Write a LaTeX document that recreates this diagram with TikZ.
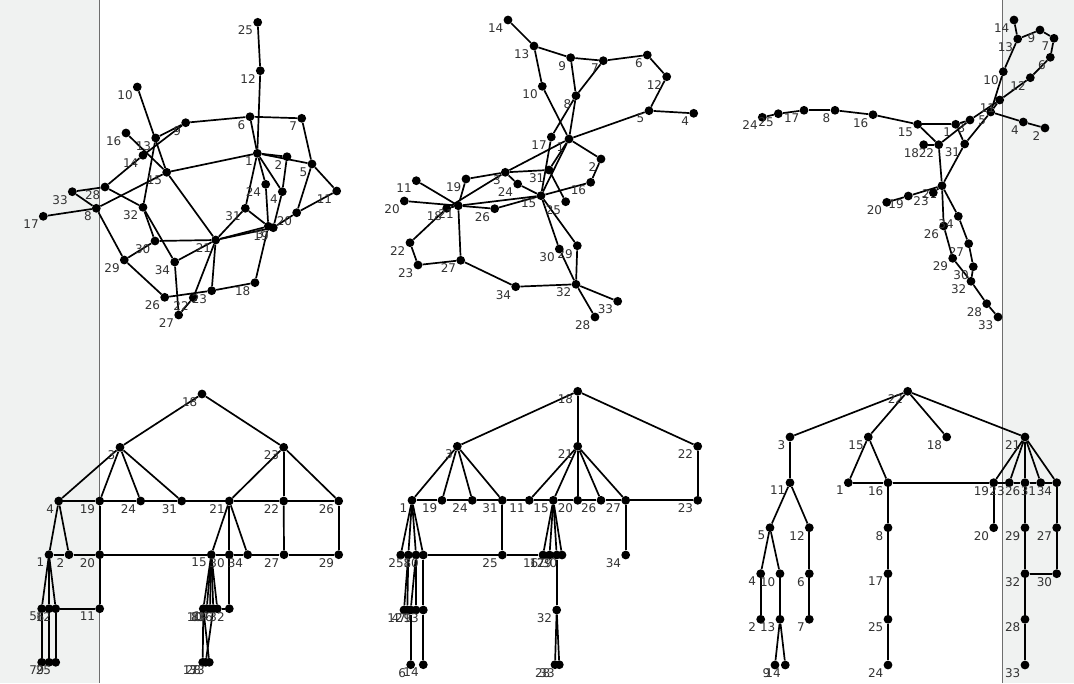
\documentclass[tikz,border=0pt]{standalone}
\usepackage{fontspec}
\setmainfont{DejaVu Sans}
\pgfdeclarelayer{back}\pgfdeclarelayer{bg}\pgfsetlayers{back,bg,main}
\definecolor{stripbg}{RGB}{240,242,241}
\definecolor{stripln}{RGB}{110,110,110}
\tikzset{vtx/.style={circle,fill=black,inner sep=0pt,minimum size=8.8pt},
 lbl/.style={font=\fontsize{12}{12}\selectfont,text=black!80,inner sep=0pt,xshift=-1.2pt,yshift=0pt},
 edge/.style={line width=1.7pt,black}}
\newcommand\vx[4]{\node[vtx,label={[lbl]below left:#4}] (#1) at (#2,#3) {};}
\begin{document}
\begin{tikzpicture}[x=1pt,y=-1pt]
\useasboundingbox (0,0) rectangle (1074,683);
\begin{pgfonlayer}{back}
\fill[white] (0,0) rectangle (1074,683);
\fill[stripbg] (0,0) rectangle (99.5,683);
\fill[stripbg] (1002,0) rectangle (1074,683);
\draw[stripln,line width=0.8pt] (99.5,0) -- (99.5,683);
\draw[stripln,line width=0.8pt] (1002,0) -- (1002,683);
\end{pgfonlayer}
% ---------------- top left
\vx{a1}{257.3}{153.3}{1}\vx{a2}{287}{156.7}{2}\vx{a3}{268.3}{226.3}{3}\vx{a4}{282.3}{191.7}{4}
\vx{a5}{312}{164}{5}\vx{a6}{250}{116.7}{6}\vx{a7}{301.7}{118.3}{7}\vx{a8}{96.3}{208.3}{8}
\vx{a9}{185.7}{122.7}{9}\vx{a10}{137.3}{87}{10}\vx{a11}{336.7}{191}{11}\vx{a12}{260.3}{70.7}{12}
\vx{a13}{155.7}{138}{13}\vx{a14}{143}{155.3}{14}\vx{a15}{166.7}{172.3}{15}\vx{a16}{126}{133}{16}
\vx{a17}{43.3}{216.3}{17}\vx{a18}{255}{282.7}{18}\vx{a19}{273.3}{227.7}{19}\vx{a20}{296.7}{212.7}{20}
\vx{a21}{215.7}{240}{21}\vx{a22}{193.3}{297.7}{22}\vx{a23}{211.7}{290.7}{23}\vx{a24}{265.7}{184.3}{24}
\vx{a25}{257.7}{22.3}{25}\vx{a26}{164.7}{297.3}{26}\vx{a27}{178.7}{315}{27}\vx{a28}{105}{187}{28}
\vx{a29}{124.3}{260}{29}\vx{a30}{155}{241}{30}\vx{a31}{245.3}{208.3}{31}\vx{a32}{143}{207.3}{32}
\vx{a33}{72.3}{191.7}{33}\vx{a34}{174.7}{262}{34}
% ---------------- top middle
\vx{b1}{569}{139}{1}\vx{b2}{601}{159}{2}\vx{b3}{505.3}{172.3}{3}\vx{b4}{693.7}{113.3}{4}
\vx{b5}{649}{110.7}{5}\vx{b6}{647.3}{55}{6}\vx{b7}{603.3}{60.7}{7}\vx{b8}{576}{95.7}{8}
\vx{b9}{570.7}{57.7}{9}\vx{b10}{542.3}{86.3}{10}\vx{b11}{416.3}{180.7}{11}\vx{b12}{666.7}{76.7}{12}
\vx{b13}{534}{46}{13}\vx{b14}{508}{20}{14}\vx{b15}{541}{195.7}{15}\vx{b16}{590.7}{182.3}{16}
\vx{b17}{551.3}{137}{17}\vx{b18}{446.7}{208.3}{18}\vx{b19}{466}{179}{19}\vx{b20}{404.3}{201}{20}
\vx{b21}{458.3}{205.7}{21}\vx{b22}{410}{242.7}{22}\vx{b23}{418}{265}{23}\vx{b24}{517.7}{184}{24}
\vx{b25}{565.7}{201.7}{25}\vx{b26}{494.7}{208.7}{26}\vx{b27}{460.7}{260.3}{27}\vx{b28}{595}{317}{28}
\vx{b29}{577.3}{245.7}{29}\vx{b30}{559.3}{249}{30}\vx{b31}{549}{170}{31}\vx{b32}{576}{284.3}{32}
\vx{b33}{617.7}{301.3}{33}\vx{b34}{515.7}{286.7}{34}
% ---------------- top right
\vx{c1}{955.7}{124.3}{1}\vx{c2}{1045}{128}{2}\vx{c3}{970}{120}{3}\vx{c4}{1023.3}{122}{4}
\vx{c5}{990.7}{112}{5}\vx{c6}{1050.3}{57.3}{6}\vx{c7}{1054}{38.3}{7}\vx{c8}{835}{110.3}{8}
\vx{c9}{1040}{30}{9}\vx{c10}{1003.3}{71.7}{10}\vx{c11}{999.7}{100}{11}\vx{c12}{1030.3}{77.7}{12}
\vx{c13}{1017.7}{39}{13}\vx{c14}{1014}{20}{14}\vx{c15}{917.7}{124.3}{15}\vx{c16}{873}{114.7}{16}
\vx{c17}{804}{110.3}{17}\vx{c18}{923.7}{144.7}{18}\vx{c19}{908.3}{196}{19}\vx{c20}{886.7}{202.3}{20}
\vx{c21}{942}{185.7}{21}\vx{c22}{938.7}{144.7}{22}\vx{c23}{933.3}{192.7}{23}\vx{c24}{762.3}{117.3}{24}
\vx{c25}{778.3}{113.7}{25}\vx{c26}{943.7}{226}{26}\vx{c27}{968.7}{243.7}{27}\vx{c28}{986.7}{303.7}{28}
\vx{c29}{952.7}{258.3}{29}\vx{c30}{973.3}{266.7}{30}\vx{c31}{964.7}{144}{31}\vx{c32}{971}{281.3}{32}
\vx{c33}{998}{317}{33}\vx{c34}{958.3}{216.3}{34}
% ---------------- bottom left
\vx{d18}{202}{394}{18}
\vx{d3}{120}{447.3}{3}\vx{d23}{283.7}{447.3}{23}
\vx{d4}{58.7}{501}{4}\vx{d19}{99.7}{501}{19}\vx{d24}{140.7}{501}{24}\vx{d31}{181.7}{501}{31}
\vx{d21}{229.3}{501}{21}\vx{d22}{283.7}{501}{22}\vx{d26}{338.7}{501}{26}
\vx{d1}{49}{554.7}{1}\vx{d2}{69}{554.7}{2}\vx{d20}{99.7}{554.7}{20}\vx{d15}{211.3}{554.7}{15}
\vx{d30}{229.3}{554.7}{30}\vx{d34}{247.7}{554.7}{34}\vx{d27}{284}{554.7}{27}\vx{d29}{338.7}{554.7}{29}
\vx{d5}{41.7}{608.7}{5}\vx{d6}{49}{608.7}{6}\vx{d12}{55.7}{608.7}{12}\vx{d11}{99.7}{608.7}{11}
\vx{d8}{203.3}{608.7}{8}\vx{d10}{206.7}{608.7}{10}\vx{d13}{210}{608.7}{13}\vx{d14}{213.3}{608.7}{14}
\vx{d16}{217.3}{608.7}{16}\vx{d32}{229.3}{608.7}{32}
\vx{d7}{41.7}{662.3}{7}\vx{d9}{49}{662.3}{9}\vx{d25}{55.7}{662.3}{25}
\vx{d17}{202.7}{662.3}{17}\vx{d28}{205.7}{662.3}{28}\vx{d33}{209.3}{662.3}{33}
% ---------------- bottom middle
\vx{e18}{577.7}{391.3}{18}
\vx{e3}{457.3}{446.3}{3}\vx{e21}{577.7}{446.3}{21}\vx{e22}{697.7}{446.3}{22}
\vx{e1}{412}{500.3}{1}\vx{e19}{442}{500.3}{19}\vx{e24}{472.3}{500.3}{24}\vx{e31}{502.3}{500.3}{31}
\vx{e11}{529.3}{500.3}{11}\vx{e15}{553.3}{500.3}{15}\vx{e20}{577.7}{500.3}{20}\vx{e26}{601}{500.3}{26}
\vx{e27}{625.7}{500.3}{27}\vx{e23}{697.7}{500.3}{23}
\vx{e2}{400.7}{555}{2}\vx{e5}{408.3}{555}{5}\vx{e8}{416}{555}{8}\vx{e10}{423.3}{555}{10}
\vx{e25}{502.3}{555}{25}\vx{e16}{543}{555}{16}\vx{e17}{549.5}{555}{17}\vx{e29}{556.7}{555}{29}
\vx{e30}{562}{555}{30}\vx{e34}{625.7}{555}{34}
\vx{e4}{404}{610}{4}\vx{e12}{407.3}{610}{12}\vx{e7}{410.7}{610}{7}\vx{e9}{416}{610}{9}
\vx{e13}{423.3}{610}{13}\vx{e32}{556.7}{610}{32}
\vx{e6}{410.7}{664.7}{6}\vx{e14}{423.3}{664.7}{14}\vx{e28}{555}{664.7}{28}\vx{e33}{559.3}{664.7}{33}
% ---------------- bottom right
\vx{f22}{907.7}{391.3}{22}
\vx{f3}{790}{437}{3}\vx{f15}{868.3}{437}{15}\vx{f18}{946.7}{437}{18}\vx{f21}{1025}{437}{21}
\vx{f11}{790}{482.7}{11}\vx{f1}{848.3}{482.7}{1}\vx{f16}{888}{482.7}{16}\vx{f19}{993.7}{482.7}{19}
\vx{f23}{1009.3}{482.7}{23}\vx{f26}{1025}{482.7}{26}\vx{f31}{1040.7}{482.7}{31}\vx{f34}{1056.7}{482.7}{34}
\vx{f5}{770}{527.7}{5}\vx{f12}{809.3}{527.7}{12}\vx{f8}{888}{527.7}{8}\vx{f20}{993.7}{527.7}{20}
\vx{f29}{1025}{527.7}{29}\vx{f27}{1056.7}{527.7}{27}
\vx{f4}{760.7}{573.7}{4}\vx{f10}{780}{573.7}{10}\vx{f6}{809.3}{573.7}{6}\vx{f17}{888}{573.7}{17}
\vx{f32}{1025}{573.7}{32}\vx{f30}{1056.7}{573.7}{30}
\vx{f2}{760.7}{619.3}{2}\vx{f13}{780}{619.3}{13}\vx{f7}{809.3}{619.3}{7}\vx{f25}{888}{619.3}{25}
\vx{f28}{1025}{619.3}{28}
\vx{f9}{775}{665}{9}\vx{f14}{785.3}{665}{14}\vx{f24}{888}{665}{24}\vx{f33}{1025}{665}{33}
% ---------------- edges
\begin{pgfonlayer}{bg}
\foreach \p/\q in {25/12,12/1,6/7,6/9,6/1,7/5,9/13,9/14,10/15,16/15,13/32,14/28,15/1,15/8,15/21,
 1/31,1/4,1/24,2/4,1/2,1/5,5/11,5/20,11/20,20/19,19/4,24/3,31/3,31/21,3/18,19/21,3/21,18/23,
 23/26,23/21,21/22,22/27,34/27,34/21,32/30,32/34,30/21,30/29,8/29,29/26,8/33,8/17,33/28,28/32}
 \draw[edge] (a\p) -- (a\q);
\foreach \p/\q in {14/13,13/9,9/7,7/6,6/12,12/5,5/4,13/10,10/1,1/2,9/8,7/8,8/1,8/17,17/15,1/31,
 1/15,5/1,1/3,3/31,3/19,3/18,3/24,24/15,11/21,20/21,19/21,21/15,21/26,26/15,15/16,16/2,31/25,
 15/30,15/29,29/32,30/32,32/34,32/33,32/28,34/27,27/23,23/22,22/18,18/21,27/21}
 \draw[edge] (b\p) -- (b\q);
\foreach \p/\q in {14/13,13/9,9/7,7/6,6/12,12/11,13/10,10/5,11/5,11/3,5/4,4/2,24/25,25/17,17/8,
 8/16,16/15,15/1,15/22,22/18,22/21,22/3,1/31,31/21,31/5,21/23,21/19,19/20,21/34,21/26,34/27,
 27/30,30/32,26/29,29/32,32/28,28/33,1/3}
 \draw[edge] (c\p) -- (c\q);
\foreach \p/\q in {18/3,18/23,3/4,3/19,3/24,3/31,23/21,23/22,23/26,4/19,19/24,24/31,31/21,21/22,
 22/26,4/1,4/2,19/20,21/15,21/30,21/34,22/27,26/29,1/2,2/20,20/15,15/30,30/34,34/27,27/29,
 1/5,1/6,1/12,20/11,12/11,15/8,15/10,15/13,15/14,15/16,16/32,30/32,5/7,6/9,12/25,8/17,8/33,14/28}
 \draw[edge] (d\p) -- (d\q);
\foreach \p/\q in {18/3,18/21,18/22,3/1,3/19,3/24,3/31,21/11,21/15,21/20,21/26,21/27,22/23,
 1/19,19/24,24/31,31/11,11/15,15/20,20/26,26/27,27/23,1/2,1/5,1/8,1/10,31/25,15/16,15/17,15/29,
 15/30,27/34,10/25,25/16,5/4,5/12,8/7,8/9,10/13,29/32,7/6,13/14,32/28,32/33}
 \draw[edge] (e\p) -- (e\q);
\foreach \p/\q in {22/3,22/15,22/18,22/21,3/11,15/1,15/16,21/19,21/23,21/26,21/31,21/34,1/16,
 16/19,19/23,23/26,26/31,31/34,11/5,11/12,16/8,19/20,26/29,34/27,5/4,5/10,12/6,8/17,29/32,
 27/30,32/30,4/2,10/13,6/7,17/25,32/28,13/9,13/14,25/24,28/33}
 \draw[edge] (f\p) -- (f\q);
\end{pgfonlayer}
\end{tikzpicture}
\end{document}
